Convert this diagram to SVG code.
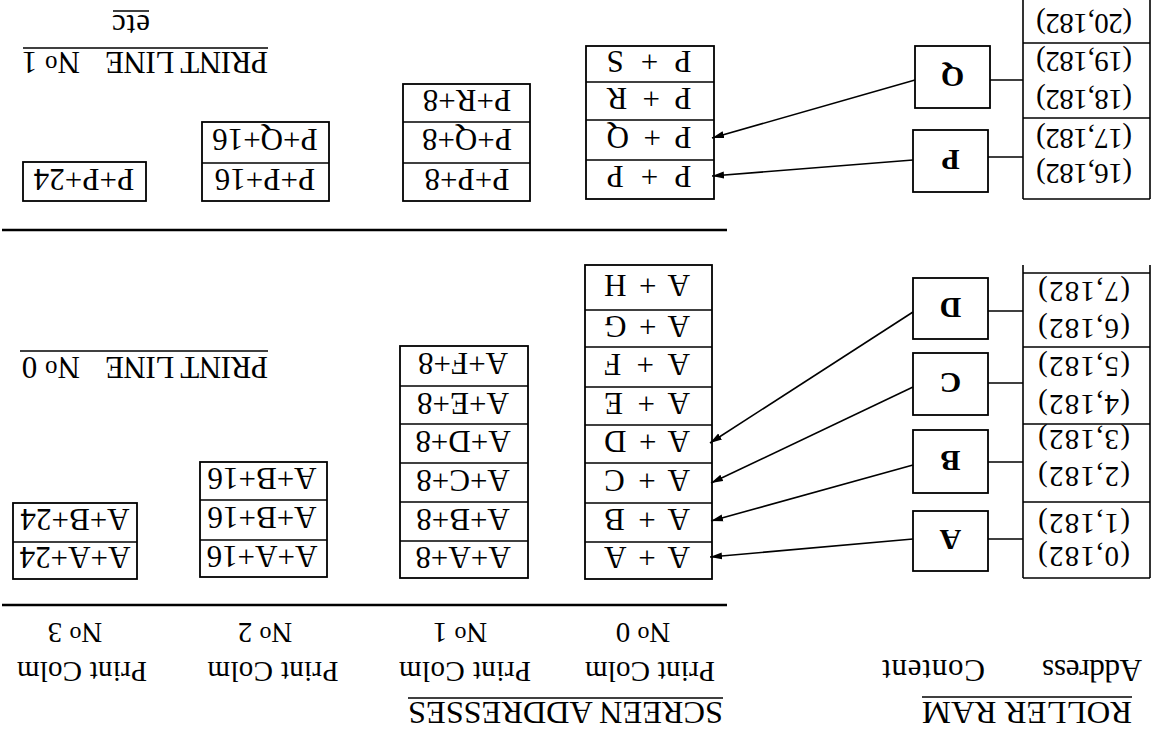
<svg xmlns="http://www.w3.org/2000/svg" width="1162" height="737" viewBox="0 0 1162 737">
<style>
text{font-family:"Liberation Serif","Times New Roman",serif;fill:#000}
.cell{font-size:31px;text-anchor:middle}
.tab{font-size:29px;text-anchor:middle}
.hd{font-size:31px}
.box{fill:none;stroke:#000;stroke-width:1.8}
.ln{stroke:#000;stroke-width:1.6;fill:none}
.big{font-size:30px;font-weight:bold;text-anchor:middle}
.rule{stroke:#000;stroke-width:2.6}
</style>
<defs>
<marker id="ah" markerUnits="userSpaceOnUse" markerWidth="14" markerHeight="10" refX="12" refY="4" orient="auto">
<path d="M0,0.5 L12,4 L0,7.5 z" fill="#000"/>
</marker>
</defs>
<rect width="1162" height="737" fill="#fff"/>
<g transform="rotate(180 581 368.5)">

<g id="headings">
<text class="hd" x="30" y="35" textLength="210" lengthAdjust="spacingAndGlyphs">ROLLER RAM</text>
<line class="ln" x1="30" y1="40" x2="240" y2="40"/>
<text class="hd" x="20" y="77" textLength="100">Address</text>
<text class="hd" x="177" y="77" textLength="103">Content</text>
<text class="hd" x="439" y="35" textLength="315" lengthAdjust="spacingAndGlyphs">SCREEN ADDRESSES</text>
<line class="ln" x1="439" y1="39" x2="754" y2="39"/>
<text class="tab" x="512" y="75" textLength="130">Print Colm</text>
<text class="tab" x="519" y="114">N<tspan font-size="24" dy="-4">o</tspan><tspan dy="4"> 0</tspan></text>
<text class="tab" x="697" y="75" textLength="132">Print Colm</text>
<text class="tab" x="702" y="114">N<tspan font-size="24" dy="-4">o</tspan><tspan dy="4"> 1</tspan></text>
<text class="tab" x="889" y="75" textLength="131">Print Colm</text>
<text class="tab" x="897" y="114">N<tspan font-size="24" dy="-4">o</tspan><tspan dy="4"> 2</tspan></text>
<text class="tab" x="1080" y="75" textLength="130">Print Colm</text>
<text class="tab" x="1087" y="114">N<tspan font-size="24" dy="-4">o</tspan><tspan dy="4"> 3</tspan></text>
<line class="rule" x1="435" y1="132" x2="1160" y2="132" stroke-width="3"/>
<line class="rule" x1="435" y1="507" x2="1160" y2="507"/>
<text class="hd" x="894" y="380" textLength="163">PRINT LINE</text>
<text class="hd" x="1082" y="380">N<tspan font-size="25" dy="-4">o</tspan><tspan dy="4"> 0</tspan></text>
<line class="ln" x1="894" y1="386" x2="1142" y2="386"/>
<text class="hd" x="894" y="685" textLength="163">PRINT LINE</text>
<text class="hd" x="1082" y="685">N<tspan font-size="25" dy="-4">o</tspan><tspan dy="4"> 1</tspan></text>
<line class="ln" x1="894" y1="689" x2="1139" y2="689"/>
<text class="hd" x="1012" y="722" textLength="38">etc</text>
<line class="ln" x1="1013" y1="726" x2="1049" y2="726"/>
</g>

<g id="roller-ram">
<line class="ln" x1="12" y1="159" x2="12" y2="472"/>
<line class="ln" x1="139" y1="159" x2="139" y2="472"/>
<line class="ln" x1="12" y1="159" x2="139" y2="159"/>
<line class="ln" x1="12" y1="235" x2="139" y2="235"/>
<line class="ln" x1="12" y1="313" x2="139" y2="313"/>
<line class="ln" x1="12" y1="390" x2="139" y2="390"/>
<line class="ln" x1="12" y1="464" x2="139" y2="464"/>
<line class="ln" x1="12" y1="538" x2="12" y2="737"/>
<line class="ln" x1="139" y1="538" x2="139" y2="737"/>
<line class="ln" x1="12" y1="538" x2="139" y2="538"/>
<line class="ln" x1="12" y1="619" x2="139" y2="619"/>
<line class="ln" x1="12" y1="694" x2="139" y2="694"/>
<text class="tab" x="78" y="190" textLength="92">(0,182)</text>
<text class="tab" x="78" y="223" textLength="92">(1,182)</text>
<text class="tab" x="78" y="270" textLength="92">(2,182)</text>
<text class="tab" x="78" y="307" textLength="92">(3,182)</text>
<text class="tab" x="78" y="342" textLength="92">(4,182)</text>
<text class="tab" x="78" y="380" textLength="92">(5,182)</text>
<text class="tab" x="78" y="418" textLength="92">(6,182)</text>
<text class="tab" x="78" y="455" textLength="92">(7,182)</text>
<text class="tab" x="78" y="573" textLength="96">(16,182)</text>
<text class="tab" x="78" y="608" textLength="96">(17,182)</text>
<text class="tab" x="78" y="647" textLength="96">(18,182)</text>
<text class="tab" x="78" y="685" textLength="96">(19,182)</text>
<text class="tab" x="78" y="723" textLength="96">(20,182)</text>
</g>

<g id="node-A"><rect class="box" x="174" y="166" width="75" height="60"/><text class="big" x="211.5" y="207">A</text></g>
<g id="node-B"><rect class="box" x="174" y="244" width="75" height="63"/><text class="big" x="211.5" y="286">B</text></g>
<g id="node-C"><rect class="box" x="174" y="322" width="75" height="62"/><text class="big" x="211.5" y="364">C</text></g>
<g id="node-D"><rect class="box" x="174" y="398" width="75" height="61"/><text class="big" x="211.5" y="439">D</text></g>
<g id="node-P"><rect class="box" x="174" y="545" width="75" height="62"/><text class="big" x="211.5" y="587">P</text></g>
<g id="node-Q"><rect class="box" x="172" y="629" width="75" height="62"/><text class="big" x="209.5" y="670">Q</text></g>

<g id="col0-line0">
<rect class="box" x="450" y="158" width="127" height="314"/>
<line class="ln" x1="450" y1="195" x2="577" y2="195"/>
<line class="ln" x1="450" y1="234" x2="577" y2="234"/>
<line class="ln" x1="450" y1="274" x2="577" y2="274"/>
<line class="ln" x1="450" y1="312" x2="577" y2="312"/>
<line class="ln" x1="450" y1="350" x2="577" y2="350"/>
<line class="ln" x1="450" y1="390" x2="577" y2="390"/>
<line class="ln" x1="450" y1="427" x2="577" y2="427"/>
<text class="cell" x="515" y="190" textLength="86">A + A</text>
<text class="cell" x="515" y="228" textLength="86">A + B</text>
<text class="cell" x="515" y="267" textLength="86">A + C</text>
<text class="cell" x="515" y="306" textLength="86">A + D</text>
<text class="cell" x="515" y="344" textLength="86">A + E</text>
<text class="cell" x="515" y="383" textLength="86">A + F</text>
<text class="cell" x="515" y="421" textLength="86">A + G</text>
<text class="cell" x="515" y="462" textLength="86">A + H</text>
</g>

<g id="col1-line0">
<rect class="box" x="634" y="159" width="128" height="232"/>
<line class="ln" x1="634" y1="196" x2="762" y2="196"/>
<line class="ln" x1="634" y1="235" x2="762" y2="235"/>
<line class="ln" x1="634" y1="274" x2="762" y2="274"/>
<line class="ln" x1="634" y1="313" x2="762" y2="313"/>
<line class="ln" x1="634" y1="351" x2="762" y2="351"/>
<text class="cell" x="699" y="190">A+A+8</text>
<text class="cell" x="699" y="228">A+B+8</text>
<text class="cell" x="699" y="267">A+C+8</text>
<text class="cell" x="699" y="306">A+D+8</text>
<text class="cell" x="699" y="344">A+E+8</text>
<text class="cell" x="699" y="384">A+F+8</text>
</g>

<g id="col2-line0">
<rect class="box" x="835" y="160" width="127" height="115"/>
<line class="ln" x1="835" y1="197" x2="962" y2="197"/>
<line class="ln" x1="835" y1="237" x2="962" y2="237"/>
<text class="cell" x="900" y="191">A+A+16</text>
<text class="cell" x="900" y="230">A+B+16</text>
<text class="cell" x="900" y="269">A+B+16</text>
</g>

<g id="col3-line0">
<rect class="box" x="1025" y="158" width="124" height="76"/>
<line class="ln" x1="1025" y1="195" x2="1149" y2="195"/>
<text class="cell" x="1087" y="190">A+A+24</text>
<text class="cell" x="1087" y="228">A+B+24</text>
</g>

<g id="col0-line1">
<rect class="box" x="448" y="538" width="128" height="153"/>
<line class="ln" x1="448" y1="577" x2="576" y2="577"/>
<line class="ln" x1="448" y1="617" x2="576" y2="617"/>
<line class="ln" x1="448" y1="655" x2="576" y2="655"/>
<text class="cell" x="513" y="571" textLength="85">P + P</text>
<text class="cell" x="513" y="610" textLength="85">P + Q</text>
<text class="cell" x="513" y="649" textLength="85">P + R</text>
<text class="cell" x="513" y="686" textLength="85">P + S</text>
</g>

<g id="col1-line1">
<rect class="box" x="632" y="536" width="127" height="117"/>
<line class="ln" x1="632" y1="574" x2="759" y2="574"/>
<line class="ln" x1="632" y1="615" x2="759" y2="615"/>
<text class="cell" x="695" y="568">P+P+8</text>
<text class="cell" x="695" y="608">P+Q+8</text>
<text class="cell" x="695" y="647">P+R+8</text>
</g>

<g id="col2-line1">
<rect class="box" x="833" y="536" width="127" height="79"/>
<line class="ln" x1="833" y1="574" x2="960" y2="574"/>
<text class="cell" x="897" y="568">P+P+16</text>
<text class="cell" x="897" y="608">P+Q+16</text>
</g>

<g id="col3-line1">
<rect class="box" x="1016" y="536" width="123" height="39"/>
<text class="cell" x="1078" y="568">P+P+24</text>
</g>

<g id="connectors">
<line class="ln" x1="139" y1="198" x2="174" y2="198"/>
<line class="ln" x1="139" y1="275" x2="174" y2="275"/>
<line class="ln" x1="139" y1="354" x2="174" y2="354"/>
<line class="ln" x1="139" y1="426" x2="174" y2="426"/>
<line class="ln" x1="139" y1="580" x2="174" y2="580"/>
<line class="ln" x1="139" y1="657" x2="172" y2="657"/>
<line class="ln" x1="249" y1="198" x2="452" y2="180" marker-end="url(#ah)"/>
<line class="ln" x1="249" y1="272" x2="451" y2="216" marker-end="url(#ah)"/>
<line class="ln" x1="249" y1="350" x2="451" y2="254" marker-end="url(#ah)"/>
<line class="ln" x1="249" y1="425" x2="452" y2="294" marker-end="url(#ah)"/>
<line class="ln" x1="249" y1="577" x2="450" y2="561" marker-end="url(#ah)"/>
<line class="ln" x1="247" y1="657" x2="450" y2="599" marker-end="url(#ah)"/>
</g>

</g>
</svg>
